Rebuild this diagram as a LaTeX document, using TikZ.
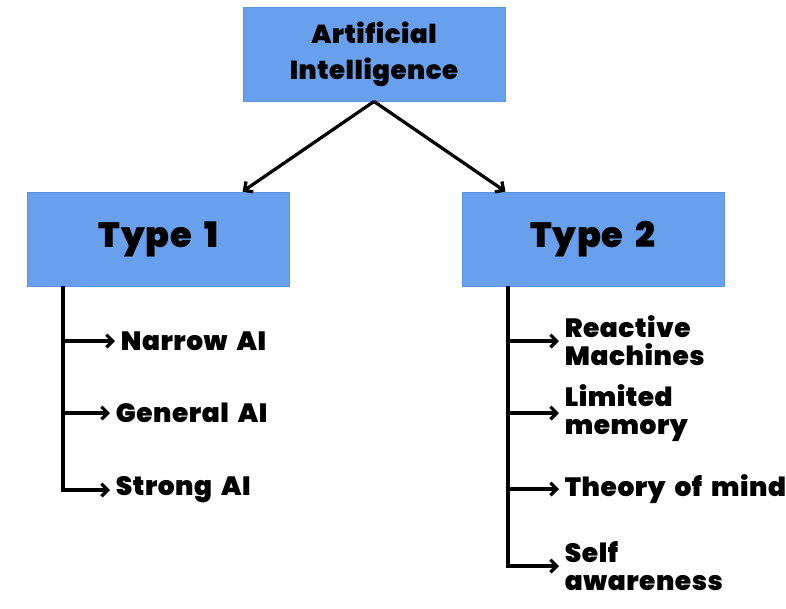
\documentclass[tikz,border=0pt]{standalone}
\usepackage{fontspec}
\setmainfont{Poppins}[BoldFont={Poppins Black}, BoldFeatures={WordSpace=1.8, LetterSpace=2}]
\usepackage{tikz}
\usetikzlibrary{positioning, arrows.meta}
\definecolor{boxblue}{RGB}{105,160,238}
\definecolor{boxline}{RGB}{92,148,228}
\tikzset{
  headbox/.style={rectangle, fill=boxblue, draw=boxline, line width=0.6pt,
    minimum width=6.55cm, minimum height=2.35cm, align=center,
    font=\fontsize{18.5}{25.5}\selectfont\bfseries},
  typebox/.style={headbox, font=\fontsize{25}{28}\selectfont\bfseries},
  item/.style={anchor=west, align=left, inner sep=4pt,
    font=\fontsize{18.8}{20}\selectfont\bfseries},
  link/.style={->, line width=2.3pt, >={Straight Barb[length=4.5pt,width=9pt]}},
}
\begin{document}
\begin{tikzpicture}[x=0.025cm, y=-0.025cm]
            \useasboundingbox (0, 0) rectangle (786, 608);
            \node[headbox] (ai) at (374, 54) {Artificial\\Intelligence};
            \node[typebox] (typeone) at (158.5, 239) {Type 1};
            \node[typebox] (typetwo) at (593, 239) {Type 2};
            \draw[link] (ai.south) -- (typeone.north -| ai.south west);
            \draw[link] (ai.south) -- (typetwo.north -| ai.south east);
            % left list
            \coordinate (ltop) at (63, 286);
            \node[item] (narrow) at (115, 341) {Narrow AI};
            \node[item] (general) at (110, 413) {General AI};
            \node[item] (strong) at (110, 490) {Strong AI};
            \draw[link] (ltop) |- (strong.west);
            \draw[link] (narrow.west -| ltop) -- (narrow.west);
            \draw[link] (general.west -| ltop) -- (general.west);
            % right list
            \coordinate (rtop) at (508, 286);
            \node[item] (reactive) at (559, 341) {Reactive\\Machines};
            \node[item] (limited) at (559, 413) {Limited\\memory};
            \node[item] (theory) at (559, 489) {Theory of mind};
            \node[item] (self) at (559, 566) {Self\\awareness};
            \draw[link] (rtop) |- (self.west);
            \draw[link] (reactive.west -| rtop) -- (reactive.west);
            \draw[link] (limited.west -| rtop) -- (limited.west);
            \draw[link] (theory.west -| rtop) -- (theory.west);
\end{tikzpicture}
\end{document}
